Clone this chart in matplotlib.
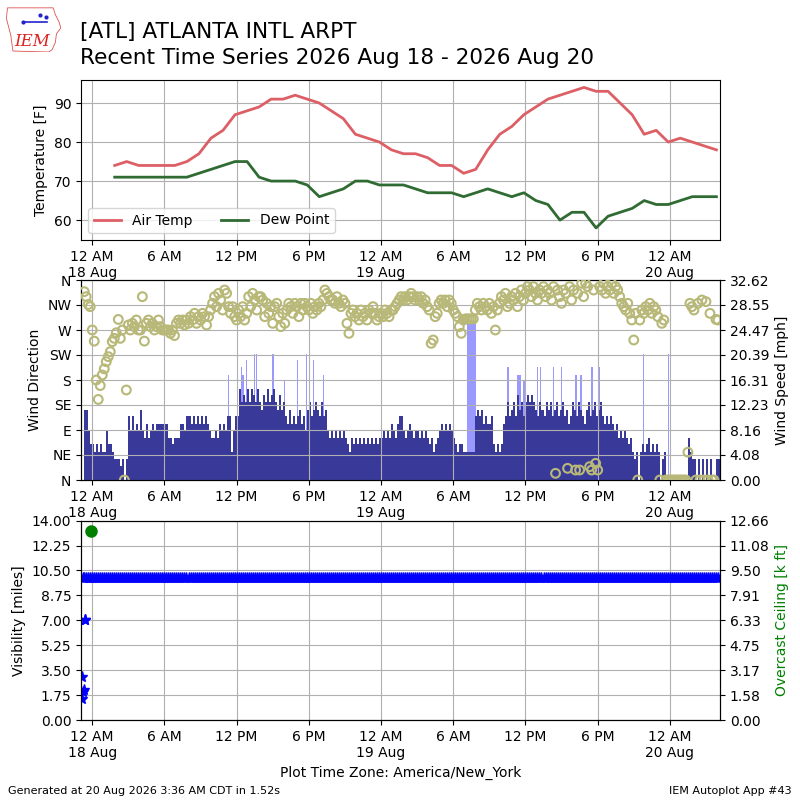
import numpy as np
import pandas as pd
import matplotlib
matplotlib.use('Agg')
import matplotlib.pyplot as plt
import matplotlib.dates as mdates
from matplotlib.ticker import FuncFormatter, FormatStrFormatter
from matplotlib.patches import Polygon

NA = np.nan

# hourly METAR obs, first one at 1:52 AM 18 Aug
temp_start = '2026-08-18 01:52'
air_temp = [74, 75, 74, 74, 74, 74, 75, 77, 81, 83, 87, 88, 89, 91, 91, 92,
            91, 90, 88, 86, 82, 81, 80, 78, 77, 77, 76, 74, 74, 72, 73, 78,
            82, 84, 87, 89, 91, 92, 93, 94, 93, 93, 90, 87, 82, 83, 80, 81,
            80, 79, 78]
dew_point = [71, 71, 71, 71, 71, 71, 71, 72, 73, 74, 75, 75, 71, 70, 70, 70,
             69, 66, 67, 68, 70, 70, 69, 69, 69, 68, 67, 67, 67, 66, 67, 68,
             67, 66, 67, 65, 64, 60, 62, 62, 58, 61, 62, 63, 65, 64, 64, 65,
             66, 66, 66]

# 10 minute wind samples starting 17 Aug 11 PM, one row per hour
wind_start = '2026-08-17 23:00'
wind_speed = [
    NA, NA, 11.5, 11.5, 8.1, 5.8,
    5.8, 4.6, 5.8, 4.6, 5.8, 4.6,
    4.6, 8.1, 5.8, 5.8, 4.6, 3.5,
    3.5, 3.5, 2.3, 3.5, 0.0, 3.5,
    10.4, 8.1, 10.4, 8.1, 9.2, 8.1,
    11.5, 8.1, 6.9, 9.2, 6.9, 8.1,
    9.2, 8.1, 9.2, 9.2, 9.2, 9.2,
    9.2, 9.2, 6.9, 6.9, 5.8, 6.9,
    6.9, 6.9, 9.2, 9.2, 8.1, 10.4,
    10.4, 9.2, 10.4, 9.2, 10.4, 9.2,
    10.4, 9.2, 10.4, 9.2, 8.1, 6.9,
    6.9, 8.1, 6.9, 9.2, 8.1, 9.2,
    8.1, 10.4, 10.4, 4.6, 8.1, 10.4,
    10.4, 14.9, 12.7, 13.8, 12.7, 14.9,
    12.7, 14.9, 13.8, 12.7, 14.9, 12.7,
    11.5, 13.8, 12.7, 14.9, 12.7, 13.8,
    14.9, 12.7, 11.5, 13.8, 11.5, 12.7,
    10.4, 9.2, 11.5, 9.2, 10.4, 9.2,
    10.4, 11.5, 9.2, 10.4, 8.1, 11.5,
    12.7, 10.4, 11.5, 12.7, 11.5, 10.4,
    12.7, 10.4, 11.5, 8.1, 6.9, 8.1,
    6.9, 8.1, 6.9, 8.1, 6.9, 8.1,
    6.9, 5.8, 4.6, 6.9, 5.8, 6.9,
    5.8, 6.9, 5.8, 6.9, 5.8, 6.9,
    5.8, 6.9, 5.8, 6.9, 5.8, 6.9,
    # 19 Aug
    6.9, 8.1, 6.9, 8.1, 6.9, 9.2,
    8.1, 6.9, 9.2, 10.4, 10.4, 8.1,
    6.9, 8.1, 9.2, 8.1, 6.9, 8.1,
    8.1, 6.9, 8.1, 6.9, 8.1, 6.9,
    5.8, 6.9, 4.6, 5.8, 6.9, 8.1,
    9.2, 8.1, 9.2, 8.1, 9.2, 8.1,
    6.9, 5.8, 4.6, 5.8, 5.8, 4.6,
    4.6, 4.6, 4.6, 4.6, 4.6, 10.4,
    11.5, 10.4, 11.5, 9.2, 10.4, 9.2,
    9.2, 10.4, 5.8, 4.6, 5.8, 4.6,
    5.8, 9.2, 10.4, 12.7, 10.4, 11.5,
    12.7, 10.4, 13.8, 11.5, 12.7, 10.4,
    12.7, 13.8, 12.7, 13.8, 12.7, 11.5,
    10.4, 12.7, 11.5, 10.4, 12.7, 11.5,
    12.7, 10.4, 11.5, 12.7, 10.4, 11.5,
    12.7, 10.4, 11.5, 9.2, 10.4, 12.7,
    11.5, 10.4, 12.7, 11.5, 10.4, 9.2,
    11.5, 12.7, 10.4, 11.5, 12.7, 10.4,
    11.5, 12.7, 10.4, 9.2, 10.4, 9.2,
    10.4, 9.2, 8.1, 9.2, 6.9, 8.1,
    6.9, 8.1, 6.9, 5.8, 6.9, 4.6,
    3.5, 4.6, 0.0, 4.6, 5.8, 4.6,
    5.8, 6.9, 4.6, 5.8, 4.6, 5.8,
    4.6, 0.0, 3.5, 4.6, 0.0, 0.0,
    # 20 Aug
    0.0, 0.0, 0.0, 0.0, 0.0, 0.0,
    0.0, 0.0, 0.0, 6.9, 4.6, 3.5,
    3.5, 0.0, 3.5, 0.0, 3.5, 0.0,
    3.5, 0.0, 3.5, 0.0, 0.0, 3.5,
    3.5,
]
wind_dir = [
    NA, NA, 339, 330, 316, 312,
    270, 250, 180, 145, 170, 189,
    200, 213, 222, 231, 249, 255,
    265, 289, 255, 270, 0, 162,
    279, 270, 282, 276, 288, 270,
    270, 330, 250, 282, 288, 276,
    282, 270, 276, 288, 276, 270,
    270, 270, 270, 264, 270, 260,
    282, 288, 282, 288, 279, 288,
    282, 294, 288, 300, 282, 294,
    288, 300, 294, 279, 294, 306,
    318, 330, 312, 336, 324, 306,
    342, 336, 312, 300, 312, 294,
    288, 306, 294, 312, 288, 300,
    330, 312, 336, 324, 306, 330,
    330, 324, 294, 318, 300, 312,
    282, 312, 318, 294, 276, 300,
    282, 306, 318, 312, 300, 318,
    312, 294, 318, 306, 318, 312,
    306, 318, 300, 312, 306, 318,
    312, 324, 342, 336, 330, 324,
    324, 318, 330, 318, 312, 324,
    318, 282, 264, 300, 306, 294,
    300, 288, 306, 294, 300, 288,
    306, 300, 312, 300, 288, 294,
    # 19 Aug
    300, 294, 306, 300, 294, 306,
    306, 312, 318, 324, 330, 324,
    330, 324, 330, 336, 330, 324,
    330, 324, 330, 318, 324, 312,
    306, 246, 252, 294, 300, 318,
    324, 318, 324, 312, 324, 318,
    306, 300, 294, 276, 264, 288,
    290, 290, 290, 290, 290, 306,
    318, 312, 306, 318, 312, 306,
    318, 300, 312, 270, 306, 318,
    330, 324, 336, 312, 318, 330,
    324, 336, 312, 330, 342, 324,
    336, 348, 342, 330, 348, 336,
    324, 342, 336, 348, 330, 342,
    336, 324, 348, 12, 342, 330,
    318, 342, 336, 21, 348, 324,
    342, 18, 336, 18, 354, 330,
    354, 348, 24, 18, 342, 30,
    18, 348, 342, 354, 336, 348,
    342, 354, 336, 348, 342, 330,
    318, 312, 306, 318, 300, 288,
    252, 300, 0, 288, 306, 300,
    312, 306, 318, 300, 312, 306,
    294, 0, 282, 288, 0, 0,
    # 20 Aug
    0, 0, 0, 0, 0, 0,
    0, 0, 0, 50, 318, 312,
    306, 0, 318, 0, 324, 0,
    321, 0, 300, 0, 0, 289,
    288,
]

gust_times = ['2026-08-18 11:18', '2026-08-18 12:21', '2026-08-18 12:29',
              '2026-08-18 12:46', '2026-08-18 13:28', '2026-08-18 13:38',
              '2026-08-18 14:58', '2026-08-18 15:56', '2026-08-18 17:02',
              '2026-08-18 17:47', '2026-08-18 18:22', '2026-08-18 19:12',
              '2026-08-19 07:07', '2026-08-19 07:12', '2026-08-19 07:17',
              '2026-08-19 07:22', '2026-08-19 07:27', '2026-08-19 07:32',
              '2026-08-19 07:37', '2026-08-19 07:42', '2026-08-19 07:45',
              '2026-08-19 10:30', '2026-08-19 11:20', '2026-08-19 11:30',
              '2026-08-19 11:50', '2026-08-19 12:56', '2026-08-19 13:13',
              '2026-08-19 14:16', '2026-08-19 14:56', '2026-08-19 16:09',
              '2026-08-19 16:34', '2026-08-19 17:29', '2026-08-19 18:08',
              '2026-08-19 21:45', '2026-08-19 23:49']
gust_values = [17.2, 18.5, 17.2, 19.6, 20.6, 20.6, 20.6, 16.3, 19.6, 20.6,
               19.6, 17.2, 25.8, 25.8, 25.8, 25.8, 25.8, 25.8, 25.8, 25.8,
               25.8, 18.5, 17.2, 17.2, 16.3, 18.5, 18.5, 18.5, 18.5, 17.2,
               17.2, 18.5, 18.5, 20.6, 20.6]

vis_early_times = ['2026-08-17 23:08', '2026-08-17 23:09', '2026-08-17 23:14',
                   '2026-08-17 23:15', '2026-08-17 23:17', '2026-08-17 23:24',
                   '2026-08-17 23:26']
vis_early_values = [3.0, 1.5, 2.0, 10.0, 2.1, 7.0, 7.0]
vis_report = 10.0  # every report from 23:20 on was 10 miles

ceiling_times = ['2026-08-17 23:52']
ceiling_values = [12.0]

x_start = pd.Timestamp('2026-08-17 23:04')
x_end = pd.Timestamp('2026-08-20 04:10')

temp_times = pd.date_range(temp_start, periods=len(air_temp), freq='h')
wind_times = pd.date_range(wind_start, periods=len(wind_speed), freq='10min')
wind_speed = np.array(wind_speed, dtype=float)
wind_dir = np.array(wind_dir, dtype=float)
gust_times = pd.to_datetime(gust_times)
vis_early_times = pd.to_datetime(vis_early_times)
vis_times = wind_times[2:]


def time_label(x, pos):
    dt = mdates.num2date(x)
    h = dt.hour
    hr = h % 12
    if hr == 0:
        hr = 12
    txt = '%d %s' % (hr, 'AM' if h < 12 else 'PM')
    if h == 0:
        txt += '\n' + dt.strftime('%d %b')
    return txt


def setup_time(ax):
    ax.set_xlim(x_start, x_end)
    ax.xaxis.set_major_locator(mdates.HourLocator(byhour=[0, 6, 12, 18]))
    ax.xaxis.set_major_formatter(FuncFormatter(time_label))
    ax.grid(True, color='#b0b0b0')


fig = plt.figure(figsize=(8, 8), dpi=100)

# --- temperature ---
ax1 = fig.add_axes([0.10125, 0.70, 0.79875, 0.20])
ax1.plot(temp_times, air_temp, color='#dd5f66', lw=2, label='Air Temp')
ax1.plot(temp_times, dew_point, color='#2f6b32', lw=2, label='Dew Point')
ax1.set_ylim(54.9, 95.9)
ax1.set_yticks([60, 70, 80, 90])
ax1.set_ylabel('Temperature [F]')
ax1.legend(loc='lower left', ncol=2)
setup_time(ax1)

# --- wind ---
ax2 = fig.add_axes([0.10125, 0.40, 0.79875, 0.25])
ax2b = ax2.twinx()
ax2.set_zorder(ax2b.get_zorder() + 1)
ax2.patch.set_visible(False)
ax2b.bar(gust_times, gust_values, width=6 / 1440., align='edge',
         color='#9999ff', linewidth=0)
ax2b.bar(wind_times, wind_speed, width=10 / 1440., align='edge',
         color='#39399a', linewidth=0)
ax2.scatter(wind_times, wind_dir, s=40, facecolors='none',
            edgecolors='#b8b878', linewidths=1.5, zorder=3)
ax2.set_ylim(0, 360)
ax2.set_yticks(range(0, 361, 45))
ax2.set_yticklabels(['N', 'NE', 'E', 'SE', 'S', 'SW', 'W', 'NW', 'N'])
ax2.set_ylabel('Wind Direction')
ax2b.set_ylim(0, 32.625)
ax2b.set_yticks(np.linspace(0, 32.625, 9))
ax2b.yaxis.set_major_formatter(FormatStrFormatter('%.2f'))
ax2b.set_ylabel('Wind Speed [mph]')
setup_time(ax2)

# --- visibility / ceiling ---
ax3 = fig.add_axes([0.10125, 0.10, 0.79875, 0.2492])
ax3b = ax3.twinx()
ax3.plot(vis_times, [vis_report] * len(vis_times), '*', color='b', ms=8,
         ls='none')
ax3.plot(vis_early_times, vis_early_values, '*', color='b', ms=8, ls='none')
ax3b.plot(pd.to_datetime(ceiling_times), ceiling_values, 'o', color='g', ms=8)
ax3.set_ylim(0, 14)
ax3.set_yticks(np.linspace(0, 14, 9))
ax3.yaxis.set_major_formatter(FormatStrFormatter('%.2f'))
ax3.set_ylabel('Visibility [miles]')
ax3b.set_ylim(0, 12.663)
ax3b.set_yticks(np.linspace(0, 12.663, 9))
ax3b.yaxis.set_major_formatter(FormatStrFormatter('%.2f'))
ax3b.set_ylabel('Overcast Ceiling [k ft]', color='g')
ax3.set_xlabel('Plot Time Zone: America/New_York')
setup_time(ax3)

# --- titles and footer ---
fig.text(0.10, 1 - 38 / 800., '[ATL] ATLANTA INTL ARPT', fontsize=15.6,
         va='baseline')
fig.text(0.10, 1 - 64 / 800., 'Recent Time Series 2026 Aug 18 - 2026 Aug 20',
         fontsize=15.6, va='baseline')
fig.text(0.01, 0.008, 'Generated at 20 Aug 2026 3:36 AM CDT in 1.52s',
         fontsize=8)
fig.text(0.99, 0.008, 'IEM Autoplot App #43', fontsize=8, ha='right')

# little IEM logo
logo = fig.add_axes([0.008, 0.935, 0.068, 0.06])
logo.axis('off')
logo.set_xlim(0, 1)
logo.set_ylim(0, 1)
logo.add_patch(Polygon([(0.02, 0.92), (0.86, 0.92), (0.9, 0.78), (0.97, 0.62),
                        (1.0, 0.5), (0.92, 0.38), (0.9, 0.2), (0.84, 0.05),
                        (0.78, 0.0), (0.12, 0.02), (0.08, 0.35), (0.0, 0.7)],
                       closed=True, fill=False, ec='#e05050', lw=0.6))
logo.plot([0.3, 0.75], [0.62, 0.62], color='#2222cc', lw=1.2)
logo.plot([0.3, 0.62, 0.73], [0.62, 0.78, 0.72], 'o', color='#2222cc', ms=2)
logo.text(0.48, 0.12, 'IEM', color='#dd2222', fontsize=12, style='italic',
          family='DejaVu Serif', ha='center')

fig.savefig('out.png', dpi=100)
